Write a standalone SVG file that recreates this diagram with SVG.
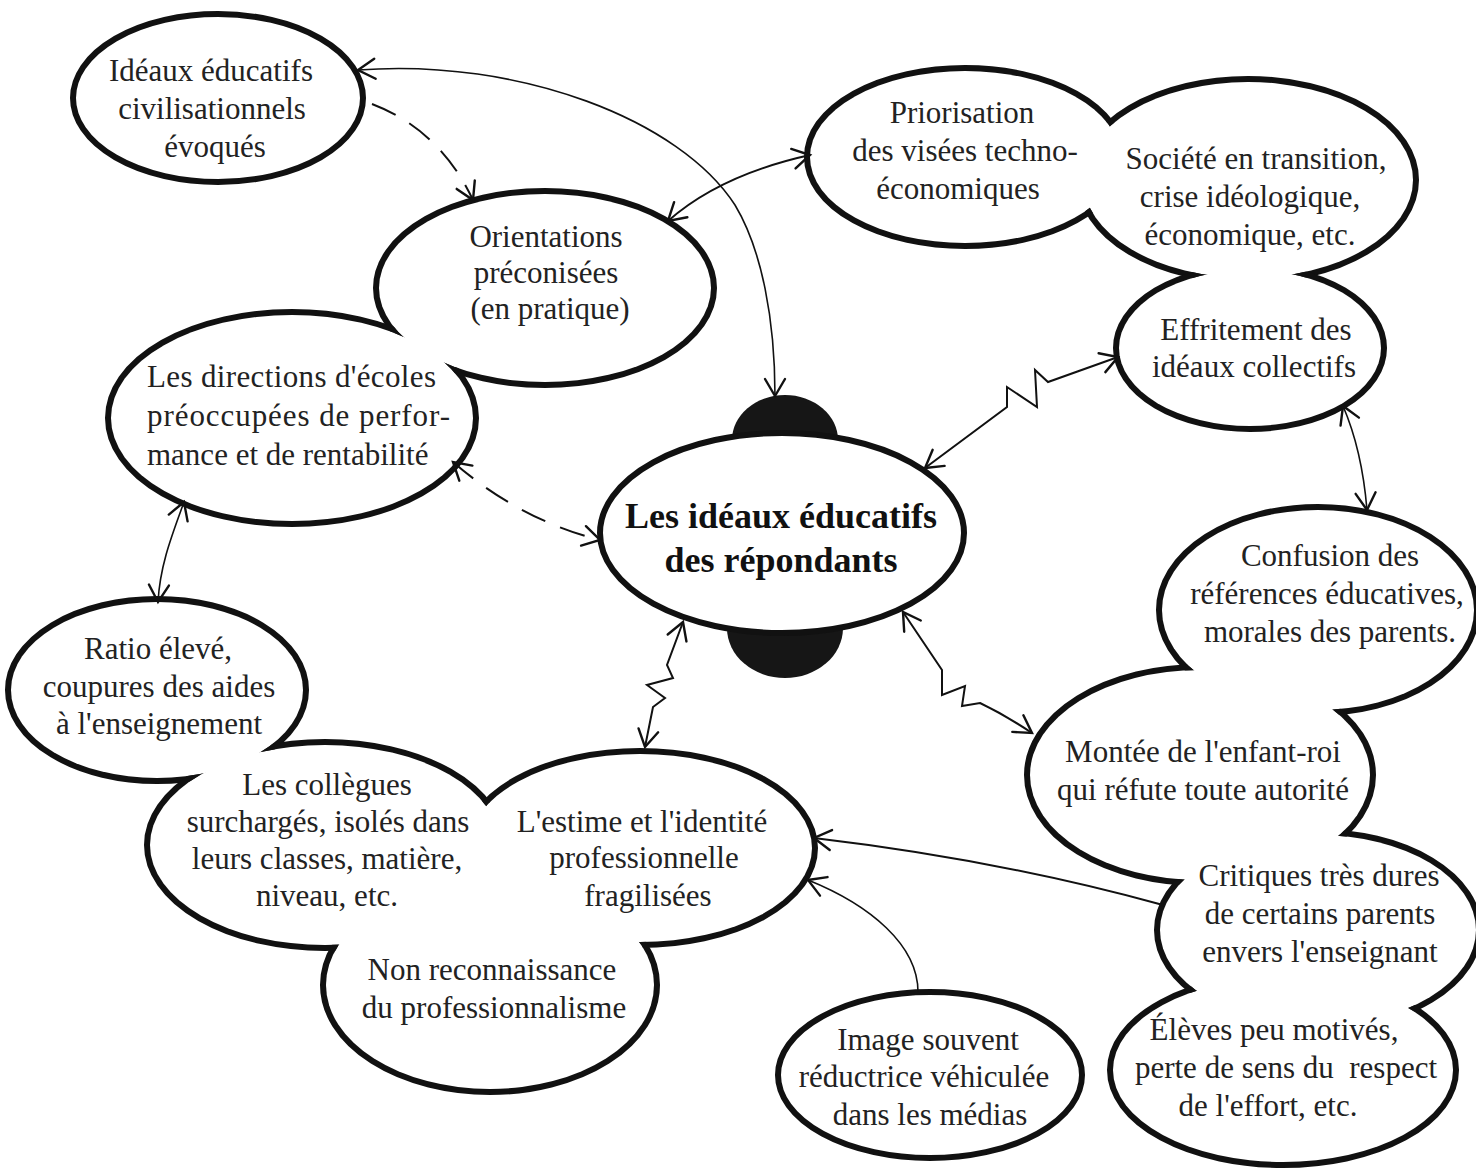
<svg xmlns="http://www.w3.org/2000/svg" width="1476" height="1169" viewBox="0 0 1476 1169">
<defs>
<style>
.t{font-family:"Liberation Serif","Times New Roman",serif;font-size:31px;fill:#222;text-anchor:middle}
.ts{font-family:"Liberation Serif","Times New Roman",serif;font-size:31px;fill:#222;text-anchor:start}
.tb{font-family:"Liberation Serif","Times New Roman",serif;font-size:36px;font-weight:bold;fill:#111;text-anchor:middle}
.halo{fill:none;stroke:#111;stroke-width:12}
.solo{fill:#fff;stroke:#111;stroke-width:6}
.c{fill:none;stroke:#111;stroke-width:2;stroke-linejoin:miter;marker-end:url(#arr)}
.cb{marker-start:url(#arr)}
.thin{stroke-width:1.6}
.dash{stroke-dasharray:26 16}
.blob{fill:#161616}
</style>
<marker id="arr" viewBox="0 0 20 20" refX="20" refY="10" markerWidth="20" markerHeight="20" markerUnits="userSpaceOnUse" orient="auto-start-reverse" overflow="visible">
<path d="M3,0 L20,10 L3,20" fill="none" stroke="#111" stroke-width="2.4" stroke-linecap="round" stroke-linejoin="miter"/>
</marker>
<mask id="m-bc" maskUnits="userSpaceOnUse" x="0" y="0" width="1476" height="1169">
<rect width="1476" height="1169" fill="#fff"/>
<ellipse cx="545" cy="288" rx="166" ry="94" fill="#000"/>
<ellipse cx="292" cy="418" rx="181" ry="103" fill="#000"/>
</mask>
<mask id="m-def" maskUnits="userSpaceOnUse" x="0" y="0" width="1476" height="1169">
<rect width="1476" height="1169" fill="#fff"/>
<ellipse cx="965" cy="157" rx="155" ry="86" fill="#000"/>
<ellipse cx="1248" cy="180" rx="165" ry="98" fill="#000"/>
<ellipse cx="1250" cy="348" rx="131" ry="78" fill="#000"/>
</mask>
<mask id="m-ghij" maskUnits="userSpaceOnUse" x="0" y="0" width="1476" height="1169">
<rect width="1476" height="1169" fill="#fff"/>
<ellipse cx="157" cy="690" rx="146" ry="88" fill="#000"/>
<ellipse cx="325" cy="845" rx="175" ry="100" fill="#000"/>
<ellipse cx="640" cy="848" rx="172" ry="94" fill="#000"/>
<ellipse cx="490" cy="985" rx="164" ry="104" fill="#000"/>
</mask>
<mask id="m-klmn" maskUnits="userSpaceOnUse" x="0" y="0" width="1476" height="1169">
<rect width="1476" height="1169" fill="#fff"/>
<ellipse cx="1318" cy="610" rx="156" ry="100" fill="#000"/>
<ellipse cx="1200" cy="775" rx="170" ry="105" fill="#000"/>
<ellipse cx="1318" cy="930" rx="158" ry="95" fill="#000"/>
<ellipse cx="1283" cy="1070" rx="170" ry="92" fill="#000"/>
</mask>
</defs>
<rect width="1476" height="1169" fill="#fff"/>

<g id="node-ideaux-civilisationnels">
<ellipse class="solo" cx="218" cy="98" rx="145" ry="84"/>
<text class="t" x="211" y="81">Idéaux éducatifs</text>
<text class="t" x="212" y="119">civilisationnels</text>
<text class="t" x="215" y="157">évoqués</text>
</g>

<g id="node-orientations">
<ellipse class="halo" mask="url(#m-bc)" cx="545" cy="288" rx="166" ry="94"/>
<text class="t" x="546" y="247">Orientations</text>
<text class="t" x="546" y="283">préconisées</text>
<text class="t" x="550" y="319">(en pratique)</text>
</g>

<g id="node-directions">
<ellipse class="halo" mask="url(#m-bc)" cx="292" cy="418" rx="181" ry="103"/>
<text class="ts" x="147" y="387" textLength="289" lengthAdjust="spacing">Les directions d'écoles</text>
<text class="ts" x="147" y="426" textLength="303" lengthAdjust="spacing">préoccupées de perfor-</text>
<text class="ts" x="147" y="465">mance et de rentabilité</text>
</g>

<g id="node-priorisation">
<ellipse class="halo" mask="url(#m-def)" cx="965" cy="157" rx="155" ry="86"/>
<text class="t" x="962" y="123">Priorisation</text>
<text class="t" x="965" y="161">des visées techno-</text>
<text class="t" x="958" y="199">économiques</text>
</g>

<g id="node-societe">
<ellipse class="halo" mask="url(#m-def)" cx="1248" cy="180" rx="165" ry="98"/>
<text class="t" x="1256" y="169">Société en transition,</text>
<text class="t" x="1250" y="207">crise idéologique,</text>
<text class="t" x="1250" y="245">économique, etc.</text>
</g>

<g id="node-effritement">
<ellipse class="halo" mask="url(#m-def)" cx="1250" cy="348" rx="131" ry="78"/>
<text class="t" x="1256" y="340">Effritement des</text>
<text class="t" x="1254" y="377">idéaux collectifs</text>
</g>

<g id="node-central">
<ellipse class="blob" cx="785" cy="440" rx="53" ry="45"/>
<ellipse class="blob" cx="785" cy="628" rx="58" ry="50"/>
<ellipse class="solo" cx="782" cy="533" rx="182" ry="100"/>
<text class="tb" x="781" y="528">Les idéaux éducatifs</text>
<text class="tb" x="781" y="572">des répondants</text>
</g>

<g id="node-ratio">
<ellipse class="halo" mask="url(#m-ghij)" cx="157" cy="690" rx="146" ry="88"/>
<text class="t" x="158" y="659">Ratio élevé,</text>
<text class="t" x="159" y="697">coupures des aides</text>
<text class="t" x="159" y="734">à l'enseignement</text>
</g>

<g id="node-collegues">
<ellipse class="halo" mask="url(#m-ghij)" cx="325" cy="845" rx="175" ry="100"/>
<text class="t" x="327" y="795">Les collègues</text>
<text class="t" x="328" y="832">surchargés, isolés dans</text>
<text class="t" x="327" y="869">leurs classes, matière,</text>
<text class="t" x="327" y="906">niveau, etc.</text>
</g>

<g id="node-estime">
<ellipse class="halo" mask="url(#m-ghij)" cx="640" cy="848" rx="172" ry="94"/>
<text class="t" x="642" y="832">L'estime et l'identité</text>
<text class="t" x="644" y="868">professionnelle</text>
<text class="t" x="648" y="906">fragilisées</text>
</g>

<g id="node-non-reconnaissance">
<ellipse class="halo" mask="url(#m-ghij)" cx="490" cy="985" rx="164" ry="104"/>
<text class="t" x="492" y="980">Non reconnaissance</text>
<text class="t" x="494" y="1018">du professionnalisme</text>
</g>

<g id="node-confusion">
<ellipse class="halo" mask="url(#m-klmn)" cx="1318" cy="610" rx="156" ry="100"/>
<text class="t" x="1330" y="566">Confusion des</text>
<text class="t" x="1327" y="604">références éducatives,</text>
<text class="t" x="1330" y="642">morales des parents.</text>
</g>

<g id="node-montee">
<ellipse class="halo" mask="url(#m-klmn)" cx="1200" cy="775" rx="170" ry="105"/>
<text class="t" x="1203" y="762">Montée de l'enfant-roi</text>
<text class="t" x="1203" y="800">qui réfute toute autorité</text>
</g>

<g id="node-critiques">
<ellipse class="halo" mask="url(#m-klmn)" cx="1318" cy="930" rx="158" ry="95"/>
<text class="t" x="1319" y="886">Critiques très dures</text>
<text class="t" x="1320" y="924">de certains parents</text>
<text class="t" x="1320" y="962">envers l'enseignant</text>
</g>

<g id="node-eleves">
<ellipse class="halo" mask="url(#m-klmn)" cx="1283" cy="1070" rx="170" ry="92"/>
<text class="t" x="1274" y="1040">Élèves peu motivés,</text>
<text class="t" x="1286" y="1078" xml:space="preserve">perte de sens du  respect</text>
<text class="t" x="1268" y="1116">de l'effort, etc.</text>
</g>

<g id="node-image-medias">
<ellipse class="solo" cx="930" cy="1075" rx="152" ry="83"/>
<text class="t" x="928" y="1050">Image souvent</text>
<text class="t" x="924" y="1087">réductrice véhiculée</text>
<text class="t" x="930" y="1125">dans les médias</text>
</g>

<g id="connectors">
<path class="c cb thin" d="M358,70 C520,58 680,120 735,205 C762,250 775,320 775,396"/>
<path class="c dash" d="M372,104 Q440,130 473,200"/>
<path class="c cb" d="M668,221 Q720,175 810,155"/>
<path class="c cb dash" d="M453,462 Q520,520 600,540"/>
<path class="c cb thin" d="M184,502 C172,535 160,565 158,602"/>
<path class="c cb" d="M925,468 L1007,407 L1007,387 L1037,407 L1035,370 L1048,382 L1118,357"/>
<path class="c cb" d="M683,622 L667,665 L673,678 L647,685 L665,698 L653,707 L645,747"/>
<path class="c cb" d="M903,612 L942,670 L942,695 L965,686 L962,706 L980,703 Q1005,715 1032,733"/>
<path class="c cb thin" d="M1343,406 Q1362,450 1367,510"/>
<path class="c" d="M1163,905 Q1000,860 814,838"/>
<path class="c thin" d="M918,992 C918,945 870,905 808,880"/>
</g>
</svg>
